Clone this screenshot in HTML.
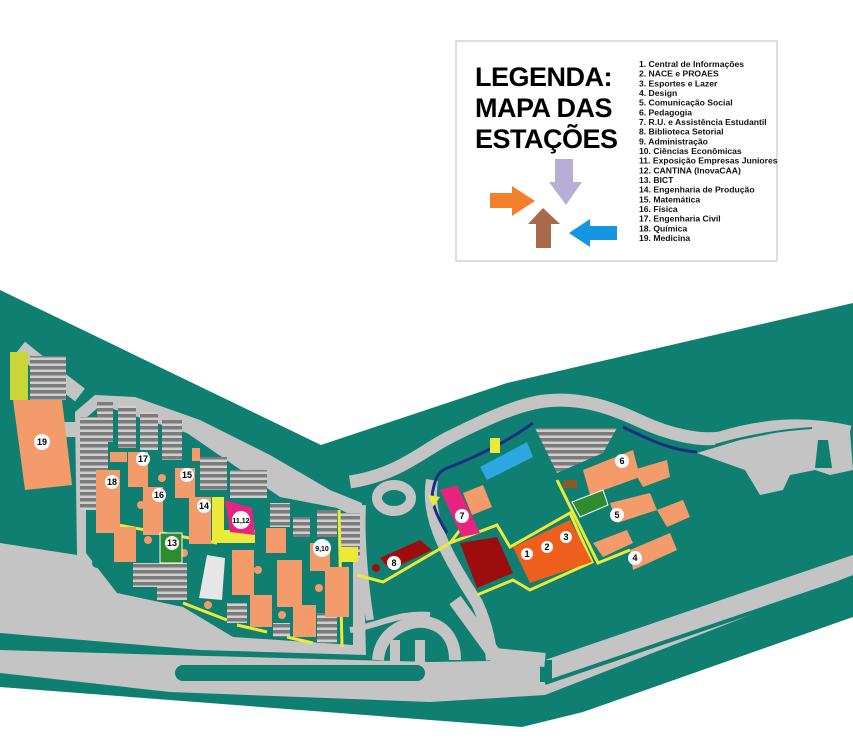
<!DOCTYPE html>
<html><head><meta charset="utf-8"><style>
body{margin:0;background:#fff;}
svg{display:block;}
text{font-family:"Liberation Sans",sans-serif;font-weight:bold;}
</style></head><body>
<svg width="853" height="748" viewBox="0 0 853 748" xmlns="http://www.w3.org/2000/svg">
<defs>
<pattern id="st" width="6" height="6" patternUnits="userSpaceOnUse"><rect width="6" height="6" fill="#cfcfcf"/><rect width="6" height="3.5" fill="#7b7b7b"/></pattern>
</defs>
<polygon points="0,290 321,445 507,383 853,303 853,617 583,712 522,727 0,687" fill="#0f7f72"/>
<polygon points="0,543 77,555 75,412 95,395 135,397 200,420 270,455 330,490 362,503 366,655 200,650 0,633" fill="#c4c4c4"/>
<polygon points="86,418 101,405 187,433 280,497 337,508 353,516 353,645 233,637 183,607 117,593 86,553" fill="#0f7f72"/>
<path d="M20,348 L45,368 L80,395" stroke="#c4c4c4" stroke-width="16" fill="none"/>
<rect x="62" y="422" width="22" height="15" fill="#c4c4c4"/>
<circle cx="97" cy="563" r="5" fill="#0f7f72"/>
<polygon points="0,650 170,655 430,662 545,660 853,555 853,575 545,695 430,702 170,692 0,673" fill="#c4c4c4"/>
<rect x="175" y="665" width="250" height="16" rx="8" fill="#0f7f72"/>
<path d="M545,683 L853,578" stroke="#0f7f72" stroke-width="4"/>
<rect x="540" y="660" width="12" height="22" fill="#0f7f72"/>
<path d="M350,482 C400,474 420,452 450,437 C490,417 520,404 545,401 C580,397 610,407 640,421 C670,435 700,441 720,438 C760,426 800,421 850,432" fill="none" stroke="#c4c4c4" stroke-width="13"/>
<path d="M432,480 C425,520 450,560 477,603 C485,620 490,640 492,660" fill="none" stroke="#c4c4c4" stroke-width="12"/>
<path d="M362,505 C360,540 365,590 370,620" fill="none" stroke="#c4c4c4" stroke-width="8"/>
<path d="M378,660 C380,630 410,620 425,622 C445,625 455,640 455,660" fill="none" stroke="#c4c4c4" stroke-width="12"/>
<path d="M350,630 C380,625 400,612 430,615" fill="none" stroke="#c4c4c4" stroke-width="6"/>
<ellipse cx="394" cy="498" rx="17" ry="13" fill="none" stroke="#c4c4c4" stroke-width="10"/>
<path d="M395,640 L395,665 M420,640 L420,665" stroke="#c4c4c4" stroke-width="10"/>
<path d="M455,600 L495,655 L545,660" fill="none" stroke="#c4c4c4" stroke-width="14"/>
<polygon points="697,453 740,440 790,430 820,430 850,432 853,470 830,475 815,470 790,475 783,490 760,495 745,470" fill="#c4c4c4"/>
<path d="M818,440 L828,440 L832,468 L815,468 Z" fill="#0f7f72"/>
<path d="M715,445 C750,435 780,430 812,428" stroke="#0f7f72" stroke-width="2" fill="none"/>
<path d="M447,533 C436,515 430,500 433,490 C436,475 440,470 450,467 C480,455 510,440 533,423" fill="none" stroke="#1b2f80" stroke-width="3"/>
<path d="M623,427 C650,440 670,450 697,452" fill="none" stroke="#1b2f80" stroke-width="3"/>
<rect x="30" y="356" width="36" height="44" fill="url(#st)"/>
<polygon points="535,428 617,428 603,453 557,473" fill="url(#st)"/>
<rect x="80" y="417" width="28" height="93" fill="url(#st)"/>
<rect x="97" y="402" width="16" height="40" fill="url(#st)"/>
<rect x="118" y="406" width="18" height="42" fill="url(#st)"/>
<rect x="140" y="412" width="18" height="38" fill="url(#st)"/>
<rect x="162" y="420" width="20" height="40" fill="url(#st)"/>
<rect x="200" y="457" width="27" height="33" fill="url(#st)"/>
<rect x="230" y="470" width="37" height="28" fill="url(#st)"/>
<rect x="270" y="503" width="20" height="24" fill="url(#st)"/>
<rect x="293" y="517" width="17" height="20" fill="url(#st)"/>
<rect x="317" y="510" width="20" height="27" fill="url(#st)"/>
<rect x="340" y="513" width="20" height="45" fill="url(#st)"/>
<rect x="133" y="563" width="24" height="24" fill="url(#st)"/>
<rect x="157" y="563" width="30" height="37" fill="url(#st)"/>
<rect x="227" y="603" width="20" height="20" fill="url(#st)"/>
<rect x="273" y="623" width="17" height="14" fill="url(#st)"/>
<rect x="317" y="613" width="20" height="30" fill="url(#st)"/>
<g fill="none" stroke="#ecea38" stroke-width="3">
<path d="M118,525 L217,543"/><path d="M339,510 L342,647"/><path d="M183,603 L227,620 M237,625 L267,632 M287,637 L313,643"/>
<path d="M357,575 L383,582 L450,543 L497,525 L510,547 L570,513 L592,562 L530,590 L513,580 L477,595"/>
<path d="M557,480 L598,563 L630,550"/><path d="M450,543 L460,530"/>
</g>
<rect x="212" y="497" width="12" height="45" fill="#ecea38"/><rect x="212" y="530" width="43" height="13" fill="#ecea38"/>
<rect x="340" y="547" width="18" height="15" fill="#ecea38"/>
<rect x="10" y="352" width="18" height="48" fill="#c9d63a"/>
<polygon points="428,495 440,497 433,507" fill="#ecea38"/>
<rect x="490" y="438" width="10" height="15" fill="#ecea38"/>
<g fill="#f49b6b">
<polygon points="13,400 62,400 72,485 25,490"/>
<rect x="128" y="452" width="20" height="35"/><rect x="110" y="452" width="17" height="10"/>
<rect x="96" y="470" width="24" height="63"/><rect x="114" y="527" width="22" height="35"/>
<rect x="143" y="487" width="20" height="48"/><rect x="175" y="468" width="20" height="30"/>
<rect x="192" y="448" width="8" height="13"/><rect x="189" y="497" width="22" height="47"/>
<rect x="232" y="550" width="22" height="45"/><rect x="250" y="595" width="22" height="32"/>
<rect x="266" y="528" width="20" height="25"/><rect x="277" y="560" width="25" height="47"/>
<rect x="293" y="605" width="23" height="32"/><rect x="310" y="543" width="20" height="28"/>
<rect x="325" y="567" width="24" height="50"/>
<circle cx="162" cy="478" r="4"/><circle cx="141" cy="505" r="4"/><circle cx="184" cy="553" r="4"/><circle cx="208" cy="605" r="4"/><circle cx="258" cy="570" r="4"/><circle cx="282" cy="615" r="4"/><circle cx="319" cy="588" r="4"/><circle cx="148" cy="540" r="4"/>
<polygon points="583,470 633,450 640,477 590,495"/><polygon points="633,470 667,460 670,477 643,487"/>
<polygon points="610,503 650,493 657,510 617,523"/><polygon points="657,510 683,500 690,517 667,527"/>
<polygon points="593,543 627,530 633,543 603,557"/><polygon points="630,550 670,533 677,550 633,570"/>
<polygon points="463,493 483,485 492,507 472,515"/>
</g>
<polygon points="513,547 570,520 592,562 530,583" fill="#ef5e1d"/>
<polygon points="225,500 252,508 255,535 230,532" fill="#e6247f"/>
<rect x="160" y="533" width="22" height="30" fill="#2e8b2e" stroke="#fff" stroke-width="1"/>
<polygon points="207,555 225,558 222,600 199,598" fill="#e6e6e6"/>
<polygon points="440,490 457,485 480,533 462,537" fill="#e6247f"/>
<polygon points="380,558 420,540 432,550 390,570" fill="#9e0d0d"/>
<circle cx="376" cy="568" r="4" fill="#9e0d0d"/>
<polygon points="460,543 497,537 513,573 477,588" fill="#9e0d0d"/>
<polygon points="480,467 527,442 533,457 487,480" fill="#2ea6df"/>
<polygon points="572,502 603,490 608,505 580,517" fill="#2e8b2e" stroke="#fff" stroke-width="1"/>
<rect x="563" y="480" width="14" height="8" fill="#8b5a2b"/>
<g font-size="9" text-anchor="middle">
<g fill="#fff"><circle cx="42" cy="442" r="8"/><circle cx="112" cy="482" r="7"/><circle cx="143" cy="459" r="7"/><circle cx="159" cy="495" r="7"/><circle cx="187" cy="475" r="7"/><circle cx="204" cy="506" r="7"/><circle cx="241" cy="520" r="9"/><circle cx="172" cy="543" r="7"/><circle cx="322" cy="548" r="9"/><circle cx="394" cy="563" r="7"/><circle cx="462" cy="516" r="7"/><circle cx="527" cy="554" r="6"/><circle cx="547" cy="547" r="6"/><circle cx="566" cy="537" r="6"/><circle cx="622" cy="461" r="7"/><circle cx="617" cy="515" r="7"/><circle cx="635" cy="558" r="7"/></g>
<text x="42" y="445">19</text><text x="112" y="485">18</text><text x="143" y="462">17</text><text x="159" y="498">16</text><text x="187" y="478">15</text><text x="204" y="509">14</text><text x="241" y="523" font-size="7">11,12</text><text x="172" y="546">13</text><text x="322" y="551" font-size="7">9,10</text><text x="394" y="566">8</text><text x="462" y="519">7</text><text x="527" y="557">1</text><text x="547" y="550">2</text><text x="566" y="540">3</text><text x="622" y="464">6</text><text x="617" y="518">5</text><text x="635" y="561">4</text>
</g>
<rect x="456" y="41" width="321" height="220" fill="#fff" stroke="#ddd" stroke-width="2"/>
<g font-size="27" fill="#000" letter-spacing="-0.5"><text x="475" y="86">LEGENDA:</text><text x="475" y="117">MAPA DAS</text><text x="475" y="148">ESTAÇÕES</text></g>
<g font-size="8.6" fill="#111">
<text x="639" y="67">1. Central de Informações</text><text x="639" y="76.7">2. NACE e PROAES</text><text x="639" y="86.4">3. Esportes e Lazer</text><text x="639" y="96">4. Design</text><text x="639" y="105.7">5. Comunicação Social</text><text x="639" y="115.4">6. Pedagogia</text><text x="639" y="125">7. R.U. e Assistência Estudantil</text><text x="639" y="134.7">8. Biblioteca Setorial</text><text x="639" y="144.4">9. Administração</text><text x="639" y="154">10. Ciências Econômicas</text><text x="639" y="163.7">11. Exposição Empresas Juniores</text><text x="639" y="173.4">12. CANTINA (InovaCAA)</text><text x="639" y="183">13. BICT</text><text x="639" y="192.7">14. Engenharia de Produção</text><text x="639" y="202.4">15. Matemática</text><text x="639" y="212">16. Física</text><text x="639" y="221.7">17. Engenharia Civil</text><text x="639" y="231.4">18. Química</text><text x="639" y="241">19. Medicina</text>
</g>
<polygon points="555,159 573,159 573,182 582,182 566,205 549,182 555,182" fill="#b7aed6"/>
<polygon points="490,193 512,193 512,186 535,201 512,216 512,208 490,208" fill="#f47f2a"/>
<polygon points="536,248 551,248 551,224 560,224 543,208 528,224 536,224" fill="#a86a4a"/>
<polygon points="617,226 590,226 590,219 569,233 590,247 590,240 617,240" fill="#1496e0"/>
</svg>
</body></html>
